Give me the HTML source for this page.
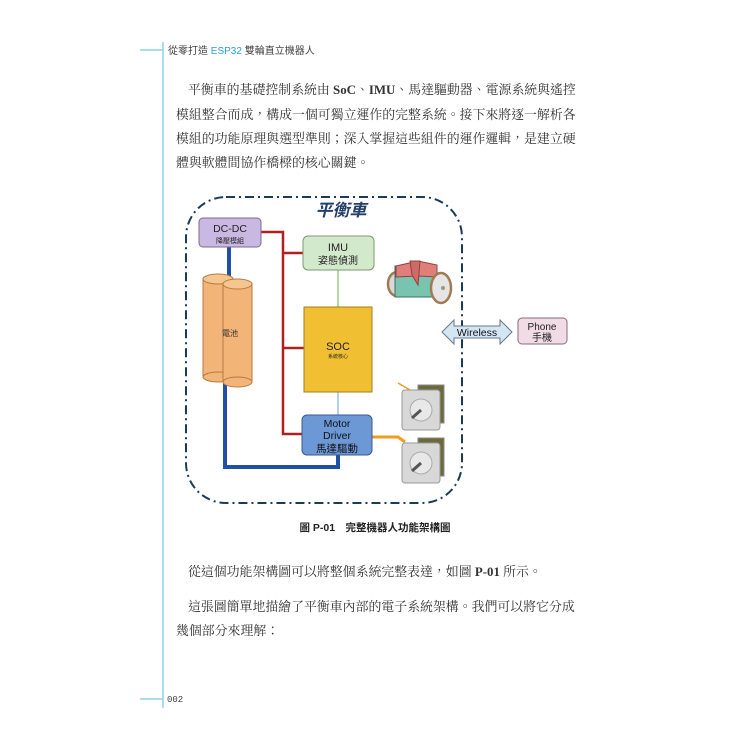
<!DOCTYPE html>
<html><head><meta charset="utf-8"><style>
html,body{margin:0;padding:0;background:#fff;}
body{width:750px;height:750px;position:relative;overflow:hidden;font-family:"Liberation Serif","Noto Serif CJK TC",serif;color:#333;}
.p{position:absolute;font-size:12.9px;white-space:nowrap;letter-spacing:0;}
</style></head><body>
<svg width="750" height="750" style="position:absolute;left:0;top:0">
<line x1="163" y1="42" x2="163" y2="708" stroke="#8fd0ea" stroke-width="1.5"/>
<line x1="140" y1="50" x2="163" y2="50" stroke="#8fd0ea" stroke-width="1.5"/>
<line x1="140" y1="699" x2="163" y2="699" stroke="#8fd0ea" stroke-width="1.5"/>
<text x="168" y="54" font-family="Liberation Sans,Noto Sans CJK TC,sans-serif" font-size="10" fill="#444">從零打造 <tspan fill="#2a9fd6">ESP32</tspan> 雙輪直立機器人</text>
<text x="167" y="702" font-family="Liberation Mono,monospace" font-size="9" fill="#444">002</text>

<rect x="186" y="197" width="276" height="306" rx="40" fill="none" stroke="#1d3a5a" stroke-width="2" stroke-dasharray="9,4,2,4"/>
<text x="341" y="216" text-anchor="middle" font-family="Liberation Sans,Noto Sans CJK TC,sans-serif" font-size="17" font-weight="bold" font-style="italic" fill="#243f6a">平衡車</text>

<polyline points="261,232 283,232 283,434 303,434" fill="none" stroke="#b02020" stroke-width="2.5"/>
<line x1="283" y1="253" x2="303" y2="253" stroke="#b02020" stroke-width="2.5"/>
<line x1="283" y1="348" x2="304" y2="348" stroke="#b02020" stroke-width="2.5"/>
<line x1="229" y1="247" x2="229" y2="280" stroke="#1f4fa8" stroke-width="4"/>
<polyline points="225,380 225,467 338,467 338,455" fill="none" stroke="#1f4fa8" stroke-width="4"/>
<line x1="338" y1="270" x2="338" y2="307" stroke="#7fc060" stroke-width="1.2"/>
<line x1="338" y1="392" x2="338" y2="415" stroke="#80b0e0" stroke-width="1.2"/>
<polyline points="372,437 398,437 405,442" fill="none" stroke="#f39a20" stroke-width="3"/>

<rect x="203" y="279" width="30" height="98" fill="#f2b577" stroke="#b57a40"/>
<ellipse cx="218" cy="377" rx="15" ry="5" fill="#f2b577" stroke="#b57a40"/>
<ellipse cx="218" cy="279" rx="15" ry="5" fill="#f6c690" stroke="#b57a40"/>
<rect x="223" y="284" width="29" height="98" fill="#f2b577" stroke="#b57a40"/>
<ellipse cx="237.5" cy="382" rx="14.5" ry="5" fill="#f2b577" stroke="#b57a40"/>
<ellipse cx="237.5" cy="284" rx="14.5" ry="5" fill="#f6c690" stroke="#b57a40"/>
<text x="230" y="336" text-anchor="middle" font-family="Liberation Sans,Noto Sans CJK TC,sans-serif" font-size="8" fill="#333">電池</text>

<rect x="199" y="218" width="62" height="29" rx="4" fill="#c9b8e2" stroke="#7a6a98"/>
<text x="230" y="232" text-anchor="middle" font-family="Liberation Sans,sans-serif" font-size="10.5" fill="#222">DC-DC</text>
<text x="230" y="243" text-anchor="middle" font-family="Liberation Sans,Noto Sans CJK TC,sans-serif" font-size="7" fill="#222">降壓模組</text>

<rect x="303" y="236" width="71" height="34" rx="5" fill="#d3e9cc" stroke="#7a9a70"/>
<text x="338" y="251" text-anchor="middle" font-family="Liberation Sans,sans-serif" font-size="11" fill="#222">IMU</text>
<text x="338" y="264" text-anchor="middle" font-family="Liberation Sans,Noto Sans CJK TC,sans-serif" font-size="10" fill="#222">姿態偵測</text>

<rect x="304" y="307" width="68" height="85" fill="#f0c032" stroke="#a08020"/>
<text x="338" y="350" text-anchor="middle" font-family="Liberation Sans,sans-serif" font-size="11" fill="#222">SOC</text>
<text x="338" y="358" text-anchor="middle" font-family="Liberation Sans,Noto Sans CJK TC,sans-serif" font-size="5" fill="#222">系統核心</text>

<rect x="302" y="415" width="70" height="40" rx="5" fill="#6d98d6" stroke="#3a5a90"/>
<text x="337" y="427" text-anchor="middle" font-family="Liberation Sans,sans-serif" font-size="10.5" fill="#111">Motor</text>
<text x="337" y="439" text-anchor="middle" font-family="Liberation Sans,sans-serif" font-size="10.5" fill="#111">Driver</text>
<text x="337" y="452" text-anchor="middle" font-family="Liberation Sans,Noto Sans CJK TC,sans-serif" font-size="10.5" fill="#111">馬達驅動</text>

<ellipse cx="397" cy="284" rx="9" ry="12" fill="#d9d9d9" stroke="#a07a50" stroke-width="2.5"/>
<rect x="395" y="266" width="42" height="31" fill="#78c4ae" stroke="#3a7060"/>
<polygon points="396,266 418,261 437,265 437,277 418,276 396,277" fill="#e07f7a" stroke="#904040"/>
<polygon points="410,261 420,261 418,285 412,275" fill="#d06a66" stroke="#904040"/>
<ellipse cx="441" cy="288" rx="10" ry="15" fill="#e5e5e5" stroke="#a07a50" stroke-width="2.5"/>
<circle cx="443" cy="288" r="2" fill="#998"/>

<g>
<rect x="418" y="385" width="26" height="38" fill="#6d6a3a" stroke="#888"/>
<rect x="402" y="390" width="38" height="40" rx="3" fill="#d8d8d8" stroke="#999"/>
<circle cx="421" cy="410" r="11" fill="#e8e8e8" stroke="#aaa"/>
<line x1="421" y1="410" x2="412" y2="418" stroke="#555" stroke-width="3"/>
<line x1="398" y1="383" x2="410" y2="390" stroke="#f39a20" stroke-width="1.5"/>
</g>
<g>
<rect x="418" y="438" width="26" height="38" fill="#6d6a3a" stroke="#888"/>
<rect x="402" y="443" width="38" height="40" rx="3" fill="#d8d8d8" stroke="#999"/>
<circle cx="421" cy="463" r="11" fill="#e8e8e8" stroke="#aaa"/>
<line x1="421" y1="463" x2="412" y2="471" stroke="#555" stroke-width="3"/>
</g>

<polygon points="442,332 454,320 454,326 500,326 500,320 512,332 500,344 500,338 454,338 454,344" fill="#d4e6f4" stroke="#6a7a8a"/>
<text x="477" y="336" text-anchor="middle" font-family="Liberation Sans,sans-serif" font-size="10.5" fill="#111">Wireless</text>
<rect x="518" y="318" width="49" height="26" rx="4" fill="#f1dbe4" stroke="#8a6a7a"/>
<text x="542" y="330" text-anchor="middle" font-family="Liberation Sans,sans-serif" font-size="10" fill="#222">Phone</text>
<text x="542" y="341" text-anchor="middle" font-family="Liberation Sans,Noto Sans CJK TC,sans-serif" font-size="10" fill="#222">手機</text>

<text x="375" y="531" text-anchor="middle" font-family="Liberation Sans,Noto Sans CJK TC,sans-serif" font-size="10.5" font-weight="bold" fill="#222">圖 P-01　完整機器人功能架構圖</text>
</svg>

<div class="p" style="left:188px;top:79px">平衡車的基礎控制系統由 <b>SoC</b>、<b>IMU</b>、馬達驅動器、電源系統與遙控</div>
<div class="p" style="left:176px;top:104px">模組整合而成，構成一個可獨立運作的完整系統。接下來將逐一解析各</div>
<div class="p" style="left:176px;top:128px">模組的功能原理與選型準則；深入掌握這些組件的運作邏輯，是建立硬</div>
<div class="p" style="left:176px;top:152px">體與軟體間協作橋樑的核心關鍵。</div>
<div class="p" style="left:188px;top:561px">從這個功能架構圖可以將整個系統完整表達，如圖 <b>P-01</b> 所示。</div>
<div class="p" style="left:188px;top:596px">這張圖簡單地描繪了平衡車內部的電子系統架構。我們可以將它分成</div>
<div class="p" style="left:176px;top:620px">幾個部分來理解：</div>
</body></html>
